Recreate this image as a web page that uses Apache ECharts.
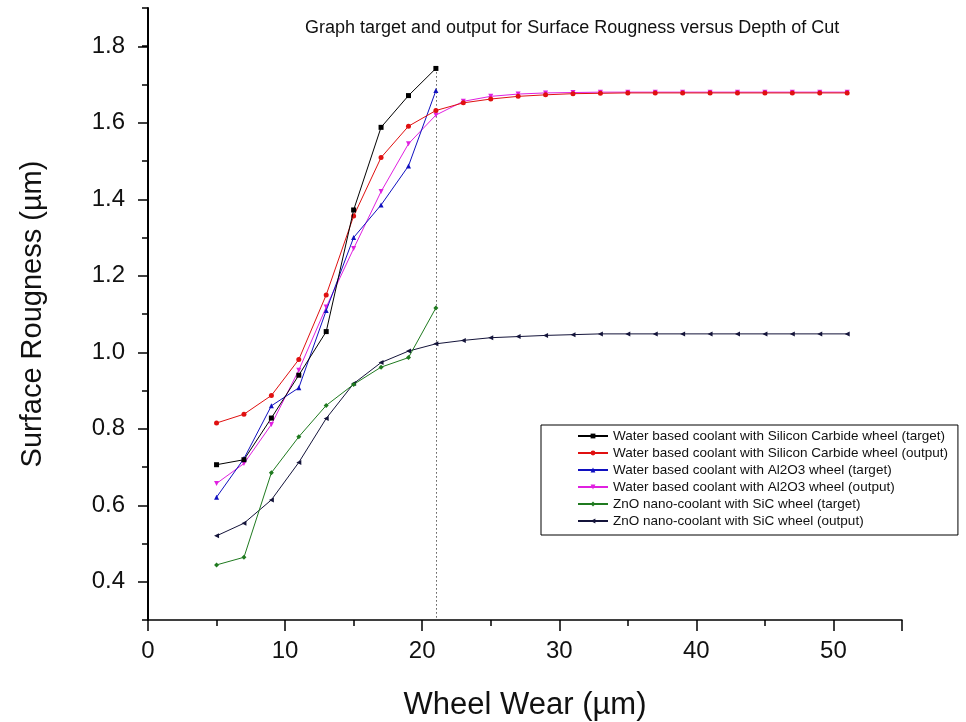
<!DOCTYPE html>
<html lang="en">
<head>
  <meta charset="UTF-8">
  <title>Surface Rougness versus Wheel Wear</title>
  <script src="https://cdn.jsdelivr.net/npm/echarts@6/dist/echarts.min.js"></script>
  <style>
    html, body { margin: 0; padding: 0; background: #fff; }
    #main { width: 966px; height: 722px; }
  </style>
</head>
<body>
<div id="main"></div>
<script>
// wheel wear (µm): targets stop at 21, network outputs run on to 51
var xTarget = [5, 7, 9, 11, 13, 15, 17, 19, 21];
var xOutput = [5, 7, 9, 11, 13, 15, 17, 19, 21, 23, 25, 27, 29, 31, 33, 35, 37, 39, 41, 43, 45, 47, 49, 51];

var sicTarget = [0.706, 0.719, 0.828, 0.940, 1.054, 1.372, 1.588, 1.671, 1.742];
var sicOutput = [0.815, 0.838, 0.887, 0.981, 1.150, 1.356, 1.509, 1.591, 1.632, 1.652, 1.662, 1.669,
                 1.673, 1.676, 1.677, 1.678, 1.678, 1.678, 1.678, 1.678, 1.678, 1.678, 1.678, 1.678];
var alTarget = [0.621, 0.722, 0.860, 0.907, 1.109, 1.300, 1.385, 1.487, 1.684];
var alOutput = [0.657, 0.709, 0.811, 0.953, 1.118, 1.271, 1.420, 1.545, 1.620, 1.656, 1.669, 1.675,
                1.678, 1.679, 1.680, 1.680, 1.680, 1.680, 1.680, 1.680, 1.680, 1.680, 1.680, 1.680];
var znoTarget = [0.444, 0.464, 0.685, 0.779, 0.861, 0.916, 0.961, 0.986, 1.116];
var znoOutput = [0.520, 0.553, 0.614, 0.712, 0.827, 0.918, 0.973, 1.003, 1.022, 1.031, 1.038, 1.041,
                 1.044, 1.046, 1.048, 1.048, 1.048, 1.048, 1.048, 1.048, 1.048, 1.048, 1.048, 1.048];

var names = [
  'Water based coolant with Silicon Carbide wheel (target)',
  'Water based coolant with Silicon Carbide wheel (output)',
  'Water based coolant with Al2O3 wheel (target)',
  'Water based coolant with Al2O3 wheel (output)',
  'ZnO nano-coolant with SiC wheel (target)',
  'ZnO nano-coolant with SiC wheel (output)'
];
var colors = ['#000000', '#e01010', '#1010c0', '#e020e0', '#1f7a1f', '#14143a'];
var symbols = ['rect', 'circle', 'triangle', 'path://M0,0 L10,0 L5,9 Z', 'diamond', 'path://M9,0 L9,10 L0,5 Z'];

function pairs(xs, ys) {
  return xs.map(function (x, i) { return [x, ys[i]]; });
}

var seriesData = [
  pairs(xTarget, sicTarget),
  pairs(xOutput, sicOutput),
  pairs(xTarget, alTarget),
  pairs(xOutput, alOutput),
  pairs(xTarget, znoTarget),
  pairs(xOutput, znoOutput)
];

var series = seriesData.map(function (d, i) {
  return {
    name: names[i],
    type: 'line',
    xAxisIndex: 0,
    yAxisIndex: 0,
    data: d,
    symbol: symbols[i],
    symbolSize: 5,
    showAllSymbol: true,
    lineStyle: { color: colors[i], width: 1 },
    itemStyle: { color: colors[i] },
    z: 10 - i
  };
});

// dotted marker at the last target point
series[0].markLine = {
  silent: true,
  symbol: 'none',
  label: { show: false },
  lineStyle: { color: '#000', type: [1, 3], width: 1 },
  data: [[{ coord: [21, 1.742] }, { coord: [21, 0.3] }]]
};

// grid 0 holds the data (y 0.3..1.9); grid 1 is sized so 0.4..1.8 sits on the same pixels,
// it only carries the labelled major ticks of the y axis
var gridTop = 8, gridBottom = 102, plotH = 722 - gridTop - gridBottom;
var pxPerUnit = plotH / 1.6;

var tickFont = { fontFamily: 'Liberation Sans', color: '#111' };

var myChart = echarts.init(document.getElementById('main'));

var option = {
  backgroundColor: '#ffffff',
  animation: false,
  title: {
    text: 'Graph target and output for Surface Rougness versus Depth of Cut',
    left: 300,
    top: 14,
    textStyle: { fontFamily: 'Liberation Sans', fontSize: 18, fontWeight: 'normal', color: '#111' }
  },
  grid: [
    { left: 148, right: 64, top: gridTop, bottom: gridBottom, outerBoundsMode: 'none', containLabel: false },
    { left: 148, right: 64, top: gridTop + 0.1 * pxPerUnit, bottom: gridBottom + 0.1 * pxPerUnit,
      outerBoundsMode: 'none', containLabel: false }
  ],
  legend: {
    orient: 'vertical',
    left: 541,
    top: 425,
    padding: [4, 10, 7, 36],
    itemGap: 3,
    itemWidth: 30,
    itemHeight: 6,
    borderColor: '#000',
    borderWidth: 1,
    data: names,
    textStyle: { fontFamily: 'Liberation Sans', fontSize: 13.5, color: '#111' }
  },
  xAxis: [
    {
      type: 'value',
      gridIndex: 0,
      position: 'bottom',
      min: 0,
      max: 55,
      interval: 10,
      name: 'Wheel Wear (µm)',
      nameLocation: 'middle',
      nameGap: 70,
      nameTextStyle: { fontFamily: 'Liberation Sans', fontSize: 31, color: '#111' },
      axisLine: { lineStyle: { color: '#000', width: 1.5 } },
      axisTick: { inside: false, length: 11, lineStyle: { color: '#000', width: 1.5 } },
      axisLabel: Object.assign({ margin: 19, fontSize: 24 }, tickFont, {
        formatter: function (v) { return v % 10 === 0 ? String(v) : ''; }
      }),
      splitLine: { show: false }
    },
    {
      // minor ticks every 5
      type: 'value',
      gridIndex: 0,
      position: 'bottom',
      offset: 0,
      min: 0,
      max: 55,
      interval: 5,
      axisLine: { show: false },
      axisTick: { inside: false, length: 6, lineStyle: { color: '#000', width: 1.5 } },
      axisLabel: { show: false },
      splitLine: { show: false }
    },
    { type: 'value', gridIndex: 1, min: 0, max: 55, show: false }
  ],
  yAxis: [
    {
      type: 'value',
      gridIndex: 0,
      min: 0.3,
      max: 1.9,
      interval: 0.1,
      name: 'Surface Rougness (µm)',
      nameLocation: 'middle',
      nameGap: 101,
      nameTextStyle: { fontFamily: 'Liberation Sans', fontSize: 29, color: '#111' },
      axisLine: { show: true, lineStyle: { color: '#000', width: 2 } },
      axisTick: { show: true, inside: false, length: 6, lineStyle: { color: '#000', width: 1.5 } },
      axisLabel: { show: false },
      splitLine: { show: false }
    },
    {
      type: 'value',
      gridIndex: 1,
      min: 0.4,
      max: 1.8,
      interval: 0.2,
      axisLine: { show: false },
      axisTick: { show: true, inside: false, length: 10, lineStyle: { color: '#000', width: 1.5 } },
      axisLabel: Object.assign({ margin: 23, fontSize: 24 }, tickFont, {
        formatter: function (v) { return v.toFixed(1); }
      }),
      splitLine: { show: false }
    }
  ],
  series: series
};

myChart.setOption(option);
</script>
</body>
</html>
